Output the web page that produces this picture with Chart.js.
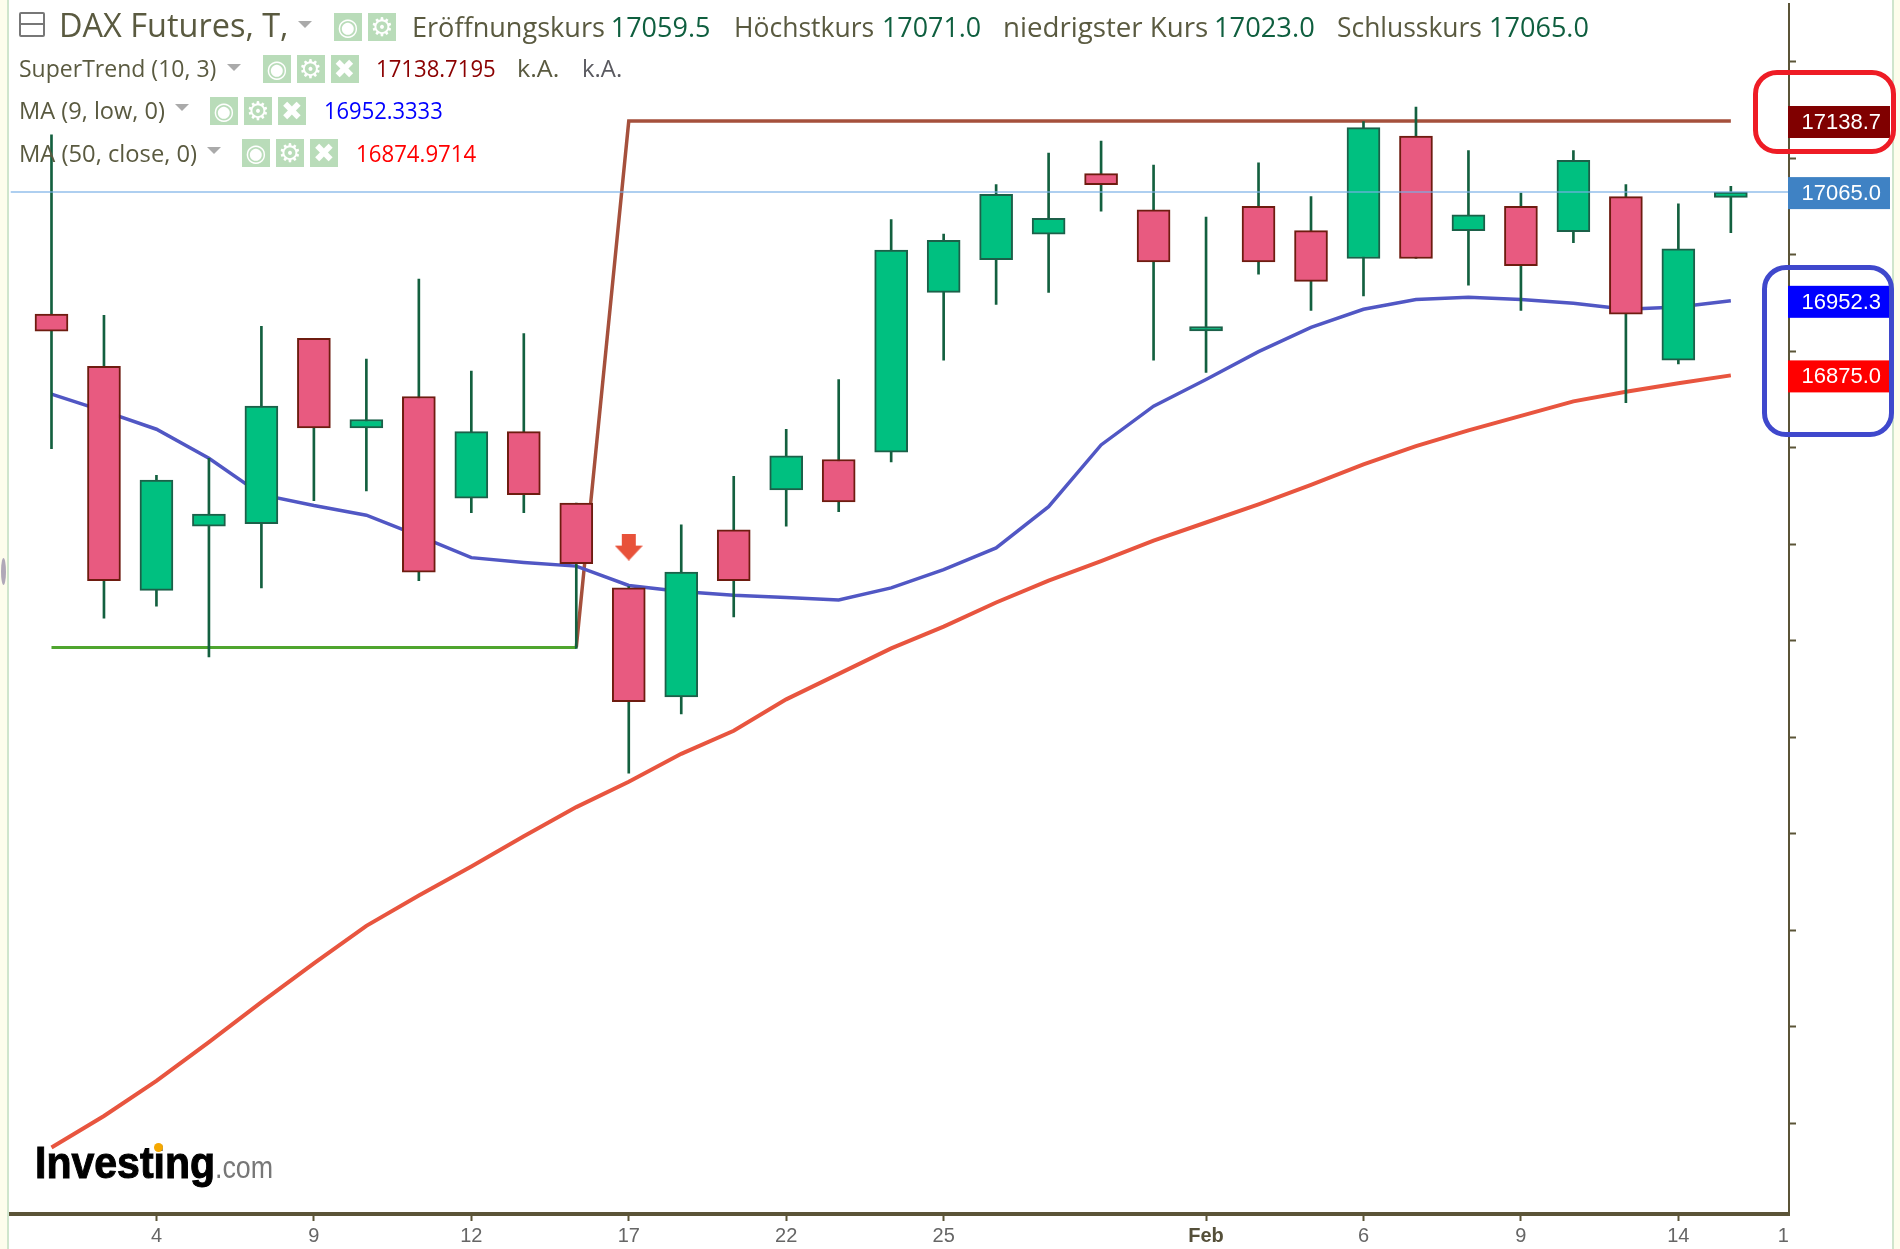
<!DOCTYPE html>
<html>
<head>
<meta charset="utf-8">
<title>DAX Futures</title>
<style>
    html, body { margin: 0; padding: 0; background: #fff; }
    body { width: 1900px; height: 1249px; position: relative; overflow: hidden; }
    canvas { position: absolute; left: 0; top: 0; }
    .txt { position: absolute; white-space: pre; line-height: 1; transform-origin: 0 0; font-family: "Open Sans", sans-serif; }
    .logo { font-family: "Liberation Sans", sans-serif; }
    .ico { position: absolute; background: #b9dcb9; color: #fff; text-align: center; font-family: "DejaVu Sans", sans-serif; font-weight: bold; overflow: hidden; }
    .tri { position: absolute; width: 0; height: 0; border-left: 7px solid transparent; border-right: 7px solid transparent; border-top: 7px solid #aaa; }
    .ring { position: absolute; box-sizing: border-box; border-style: solid; border-width: 5px; border-radius: 24px; }
    .strip { position: absolute; top: 0; height: 1249px; background: #fdfdec; }
</style>
</head>
<body>
<div class="strip" style="left:0;width:7px;border-right:2px solid #cfe5cc"></div>
<div class="strip" style="left:1892px;width:8px;border-left:2px solid #cfe5cc"></div>
<div style="position:absolute;left:1px;top:558px;width:5px;height:27px;border-radius:50%;background:#b0a8b8"></div>
<canvas id="chart" width="1900" height="1249"></canvas>
<div id="overlay"></div>
<script src="https://cdn.jsdelivr.net/npm/chart.js@4"></script>
<script>
// Date axis, one slot per session
const tickPositions = [2, 5, 8, 11, 14, 17, 22, 25, 28, 31, 33];
const tickLabels = ['4', '9', '12', '17', '22', '25', 'Feb', '6', '9', '14', '1'];

// Candles
const opens = [16938.5, 16884.5, 16652.2, 16718.8, 16721.3, 16913.4, 16820.5, 16853.1, 16747.6, 16816.7, 16742.6,
    16654.7, 16541.7, 16715, 16756.4, 16787.8, 16795.4, 16961.1, 16995, 17021.4, 17084.1, 17046.5,
    16921, 17050.2, 17025.1, 16996.2, 17123.1, 17025.1, 17050.2, 17023.9, 17060.3, 16890.8, 17059.5];
const highs = [17124.3, 16937.2, 16771.5, 16789.1, 16925.9, 16913.4, 16892, 16974.9, 16879.5, 16918.4, 16742.6,
    16656, 16720, 16770.3, 16819.2, 16870.7, 17036.4, 17021.4, 17072.8, 17105.5, 17118, 17092.9,
    17039, 17095.4, 17060.3, 17138.1, 17153.2, 17108, 17064, 17108, 17072.8, 17052.8, 17071];
const lows = [16799.1, 16623.3, 16635.9, 16583.2, 16654.7, 16745.1, 16755.2, 16662.3, 16732.6, 16732.6, 16592,
    16462.6, 16524.2, 16624.6, 16718.8, 16733.8, 16785.3, 16890.8, 16948.5, 16961.1, 17045.2, 16890.8,
    16878.2, 16979.9, 16942.3, 16957.3, 16996.2, 16968.6, 16942.3, 17012.6, 16846.8, 16887, 17023];
const closes = [16920.9, 16662.3, 16766.5, 16731.3, 16843.1, 16820.5, 16829.3, 16671, 16816.7, 16751.4, 16679.8,
    16536.7, 16671, 16662.3, 16791.6, 16743.9, 17005, 17015.1, 17062.8, 17037.7, 17072.8, 16992.5,
    16925.5, 16992.5, 16972.4, 17131.9, 16996.2, 17041.5, 16988.7, 17097.9, 16938.5, 17006.3, 17065];

// Indicators
const ma9 = [16855.6, 16838, 16819.2, 16789.1, 16751.4, 16740.1, 16730.1, 16708.7, 16686.1, 16681.1, 16677.3,
    16657.2, 16651, 16647.2, 16644.7, 16642.2, 16654.7, 16673.6, 16696.2, 16738.9, 16802.9, 16843.1,
    16870.7, 16899.6, 16924.7, 16943.5, 16953.6, 16956.1, 16953.6, 16949.8, 16943.5, 16946, 16952.3];
const ma50 = [16074.6, 16107.3, 16143.7, 16183.9, 16225.3, 16265.5, 16304.4, 16335.8, 16366, 16397.3, 16427.5,
    16453.8, 16482.7, 16506.6, 16539.2, 16565.6, 16592, 16614.6, 16639.6, 16662.3, 16682.4, 16703.7,
    16722.5, 16741.4, 16761.5, 16782.8, 16801.6, 16818, 16833, 16848.1, 16858.1, 16866.9, 16875];
const superGreen = [16593, 16593, 16593, 16593, 16593, 16593, 16593, 16593, 16593, 16593, 16593];
const superRed = [16593, 17138.7, 17138.7, 17138.7, 17138.7, 17138.7, 17138.7, 17138.7, 17138.7, 17138.7, 17138.7, 17138.7,
    17138.7, 17138.7, 17138.7, 17138.7, 17138.7, 17138.7, 17138.7, 17138.7, 17138.7, 17138.7, 17138.7];
const superRedStart = 10;

// Sell signal arrow
const signalIndex = [11];
const signalPrice = [16697];

// Price flags on the right
const flagValues = [17138.7, 17065, 16952.3, 16875];
const flagColors = ['#800000', '#3f82c4', '#0000ff', '#ff0000'];

const lastClose = 17065;

// Scale limits
const xMin = -0.781, xMax = 33.108;
const yMin = 16005.7, yMax = 17260.4;

function xy(values, start) {
    return values.map((v, i) => ({ x: i + (start || 0), y: v }));
}

// arrow sprite for the signal point
function makeArrow() {
    const c = document.createElement('canvas');
    c.width = 28; c.height = 27;
    const g = c.getContext('2d');
    g.fillStyle = '#e8523a';
    g.beginPath();
    g.moveTo(7, 0); g.lineTo(21, 0); g.lineTo(21, 12); g.lineTo(28, 12);
    g.lineTo(14, 27); g.lineTo(0, 12); g.lineTo(7, 12);
    g.closePath();
    g.fill();
    return c;
}

// price flags drawn on top of the axis
const flagPlugin = {
    id: 'flags',
    afterDraw(chart) {
        const ctx = chart.ctx;
        const y = chart.scales.y;
        ctx.save();
        ctx.font = '22px "Liberation Sans"';
        ctx.textBaseline = 'middle';
        flagValues.forEach((v, i) => {
            const py = y.getPixelForValue(v) + 1;
            ctx.fillStyle = flagColors[i];
            ctx.fillRect(1788, py - 16, 102, 32);
            ctx.fillStyle = '#fff';
            ctx.textAlign = 'right';
            ctx.fillText(v.toFixed(1), 1881, py + 1);
        });
        ctx.restore();
    }
};

new Chart(document.getElementById('chart'), {
    type: 'bar',
    plugins: [flagPlugin],
    data: {
        datasets: [
            // last price line
            { type: 'line', data: [{ x: xMin, y: lastClose }, { x: xMax, y: lastClose }], borderColor: 'rgba(120,175,230,0.8)', borderWidth: 1.5, pointRadius: 0, order: 0 },
            // candle bodies
            {
                data: opens.map((o, i) => ({ x: i, y: [o, closes[i]] })),
                backgroundColor: opens.map((o, i) => closes[i] >= o ? '#00c080' : '#e85a80'),
                borderColor: opens.map((o, i) => closes[i] >= o ? '#1c6049' : '#6e1c10'),
                borderWidth: 2, borderSkipped: false, barThickness: 33, grouped: false, order: 1
            },
            // wicks
            {
                data: lows.map((l, i) => ({ x: i, y: [l, highs[i]] })),
                backgroundColor: '#13603f', barThickness: 2, grouped: false, order: 2
            },
            // signal
            {
                type: 'line', showLine: false, data: signalIndex.map((x, i) => ({ x: x, y: signalPrice[i] })),
                pointStyle: makeArrow(), pointRadius: 14, order: 3
            },
            { type: 'line', data: xy(ma9), borderColor: '#5157c4', borderWidth: 3.5, pointRadius: 0, tension: 0, order: 5 },
            { type: 'line', data: xy(ma50), borderColor: '#e8553f', borderWidth: 4, pointRadius: 0, tension: 0, order: 5 },
            { type: 'line', data: xy(superGreen), borderColor: '#4fa52f', borderWidth: 3, pointRadius: 0, tension: 0, order: 6 },
            { type: 'line', data: xy(superRed, superRedStart), borderColor: '#a5503c', borderWidth: 3.5, pointRadius: 0, tension: 0, order: 6 }
        ]
    },
    options: {
        responsive: false,
        animation: false,
        devicePixelRatio: 1,
        layout: { autoPadding: false, padding: { left: 10.5, right: 0, top: 0, bottom: 0 } },
        plugins: { legend: { display: false }, tooltip: { enabled: false } },
        scales: {
            x: {
                type: 'linear',
                min: xMin,
                max: xMax,
                offset: false,
                afterBuildTicks: axis => { axis.ticks = tickPositions.map(v => ({ value: v })); },
                afterFit: axis => { axis.height = 35; },
                border: { color: '#5b5437', width: 4 },
                grid: {
                    offset: false,
                    drawOnChartArea: false,
                    tickLength: 7,
                    tickWidth: 2,
                    tickColor: c => c.tick && c.tick.value === 33 ? 'transparent' : '#5b5437'
                },
                ticks: {
                    autoSkip: false,
                    maxRotation: 0,
                    padding: 3,
                    callback: v => tickLabels[tickPositions.indexOf(v)],
                    color: c => c.tick && c.tick.value === 22 ? '#55503a' : '#666',
                    font: c => ({
                        family: '"Liberation Sans"',
                        size: 20,
                        weight: c.tick && c.tick.value === 22 ? 'bold' : 'normal'
                    })
                }
            },
            y: {
                position: 'right',
                min: yMin,
                max: yMax,
                afterFit: axis => { axis.width = 111; },
                border: { color: '#5b5437', width: 2 },
                grid: { drawOnChartArea: false, tickLength: 7, tickWidth: 2, tickColor: '#5b5437' },
                ticks: { stepSize: 100, includeBounds: false, display: true, color: 'transparent', font: { size: 1 }, callback: () => '' }
            }
        }
    }
});

// --- HEADER TEXT ---
const overlay = document.getElementById('overlay');
const dark = '#5a5a40', num = '#0f5f3f';

// text, left, right, baseline, size, colour
const headerTexts = [
    ['DAX Futures, T,', 58.7, 288, 37, 32, dark],
    ['Eröffnungskurs', 412, 604.6, 37, 27, dark], ['17059.5', 610.7, 710.7, 37, 27, num],
    ['Höchstkurs', 733.7, 874, 37, 27, dark], ['17071.0', 881.6, 981, 37, 27, num],
    ['niedrigster Kurs', 1003, 1208, 37, 27, dark], ['17023.0', 1214, 1315, 37, 27, num],
    ['Schlusskurs', 1336.7, 1481.6, 37, 27, dark], ['17065.0', 1488.8, 1589, 37, 27, num],
    ['SuperTrend (10, 3)', 19.4, 217, 77.8, 24, dark], ['17138.7195', 375.5, 495.4, 77.8, 24, '#8b0000'],
    ['k.A.', 516.8, 558.7, 77.8, 24, dark], ['k.A.', 581.6, 621.4, 77.8, 24, '#5a5a60'],
    ['MA (9, low, 0)', 19.4, 165.8, 119.5, 24, dark], ['16952.3333', 324, 442.9, 119.5, 24, '#0000ff'],
    ['MA (50, close, 0)', 19.4, 197.4, 162, 24, dark], ['16874.9714', 355.6, 476, 162, 24, '#ff0000']
];

headerTexts.forEach(t => {
    const el = document.createElement('div');
    el.className = 'txt';
    el.textContent = t[0];
    el.style.fontSize = t[4] + 'px';
    el.style.color = t[5];
    el.style.left = t[1] + 'px';
    el.style.top = (t[3] - 0.888 * t[4]) + 'px';
    overlay.appendChild(el);
    el.style.transform = 'scaleX(' + ((t[2] - t[1]) / el.offsetWidth) + ')';
});

// indicator buttons: left, top, height, glyph, glyph size
const icons = [
    [334, 13, 28, '◉', 24], [368, 13, 28, '⚙', 26],
    [263, 55, 28, '◉', 24], [296.5, 55, 28, '⚙', 26], [330.5, 55, 28, '✖', 26],
    [210, 97, 28, '◉', 24], [244, 97, 28, '⚙', 26], [278, 97, 28, '✖', 26],
    [242, 139, 28, '◉', 24], [276, 139, 28, '⚙', 26], [310, 139, 28, '✖', 26]
];
icons.forEach(i => {
    const el = document.createElement('div');
    el.className = 'ico';
    el.textContent = i[3];
    el.style.cssText += `left:${i[0]}px;top:${i[1]}px;width:28px;height:${i[2]}px;line-height:${i[2]}px;font-size:${i[4]}px`;
    overlay.appendChild(el);
});

// dropdown triangles
[[298, 21], [227, 64], [175, 104], [207, 147]].forEach(p => {
    const el = document.createElement('div');
    el.className = 'tri';
    el.style.left = p[0] + 'px';
    el.style.top = p[1] + 'px';
    overlay.appendChild(el);
});

// collapse box
const box = document.createElement('div');
box.style.cssText = 'position:absolute;left:19px;top:12px;width:22px;height:21px;border:2px solid #777;border-radius:2px';
box.innerHTML = '<div style="position:absolute;left:0;right:0;top:9px;height:2px;background:#777"></div>';
overlay.appendChild(box);

// hand drawn rings around the flags
[[1753, 70, 143, 84, '#ee1c25'], [1762, 265, 132, 172, '#3f48cc']].forEach(r => {
    const el = document.createElement('div');
    el.className = 'ring';
    el.style.cssText += `left:${r[0]}px;top:${r[1]}px;width:${r[2]}px;height:${r[3]}px;border-color:${r[4]}`;
    overlay.appendChild(el);
});

// logo
[['Investing', 35, 215, 1178, 44, '#000', 'bold'], ['.com', 215, 273, 1178, 31, '#777', 'normal']].forEach(t => {
    const el = document.createElement('div');
    el.className = 'txt logo';
    el.textContent = t[0];
    el.style.cssText += `font-size:${t[4]}px;color:${t[5]};font-weight:${t[6]};left:${t[1]}px;top:${t[3] - 0.8465 * t[4]}px`;
    if (t[6] === 'bold') el.style.webkitTextStroke = '1px #000';
    overlay.appendChild(el);
    el.style.transform = 'scaleX(' + ((t[2] - t[1]) / el.offsetWidth) + ')';
});
const dot = document.createElement('div');
dot.style.cssText = 'position:absolute;left:154px;top:1143px;width:9px;height:9px;border-radius:50%;background:#f5a800';
overlay.appendChild(dot);
</script>
</body>
</html>
